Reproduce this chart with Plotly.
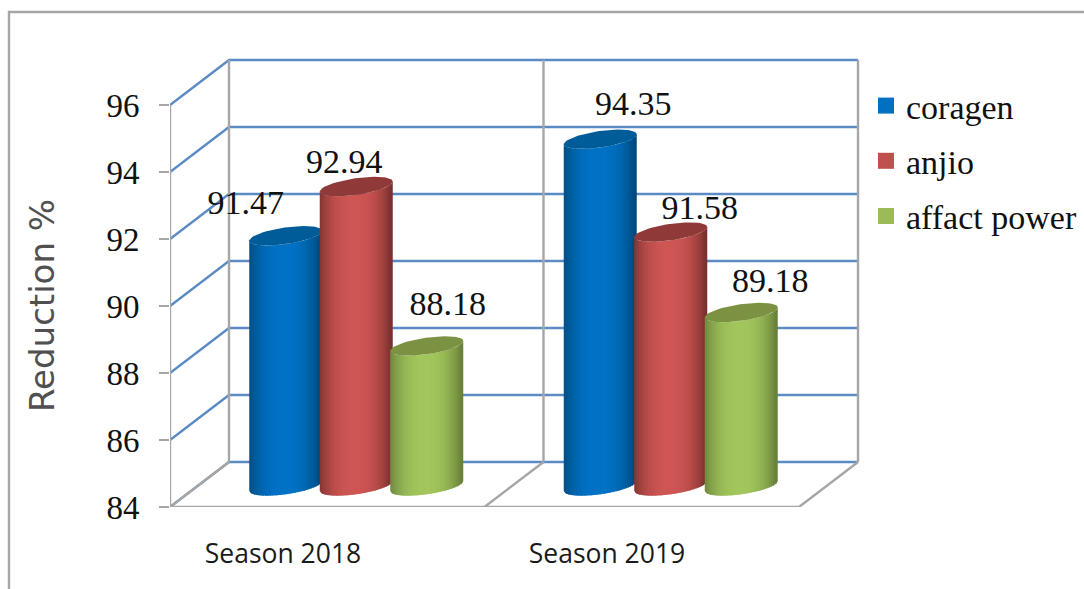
import numpy as np
import plotly.graph_objects as go

# ---- data ----
seasons = ["Season 2018", "Season 2019"]
series_names = ["coragen", "anjio", "affact power"]
coragen = [91.47, 94.35]
anjio = [92.94, 91.58]
affact_power = [88.18, 89.18]
y_ticks = [84, 86, 88, 90, 92, 94, 96]

# ---- styling / scale helpers ----
W, H = 1084, 589
L, T, B = 170, 12, 82
PX_PER_CAT = 314.5
PX_PER_VAL = 33.5
def ux(px): return px / PX_PER_CAT
def uy(px): return px / PX_PER_VAL

DX, DY = ux(59), uy(45)           # wall depth
MX, MY = ux(29), uy(21)           # depth of cylinder axis
A, BB, SH = ux(36.5), uy(8.3), uy(5)  # ellipse
GROUP = ux(70.5)
BASE = y_ticks[0]
TOP = y_ticks[-1]
GRID = "#5B8BC4"
WALL = "#A6A6A6"

shades = [
    {"edge": (0, 72, 122), "mid": (0, 114, 198), "top": (0, 92, 152), "key": "#0070C0"},
    {"edge": (122, 48, 46), "mid": (206, 86, 84), "top": (143, 58, 56), "key": "#C0504D"},
    {"edge": (104, 128, 58), "mid": (162, 198, 92), "top": (122, 146, 66), "key": "#9BBB59"},
]
label_dx = [[-40, -12, 21], [33, 29, 29]]
label_dy = [[30, 22, 39], [33, 22, 29]]
tick_x = [ux(283 - L), ux(607 - L)]

fig = go.Figure()

def line(xs, ys, color, width=2.4):
    fig.add_trace(go.Scatter(x=xs, y=ys, mode="lines", line=dict(color=color, width=width),
                             showlegend=False, hoverinfo="skip", cliponaxis=False))

# grid on side wall and back wall
for v in y_ticks:
    line([0, DX, 2 + DX], [v, v + DY, v + DY], GRID)
# walls and floor
line([0, 0], [BASE, TOP], WALL)
line([DX, DX], [BASE + DY, TOP + DY], WALL)
line([1 + DX, 1 + DX], [BASE + DY, TOP + DY], WALL)
line([2 + DX, 2 + DX], [BASE + DY, TOP + DY], WALL)
line([0, 2, 2 + DX], [BASE, BASE, BASE + DY], WALL)
line([0, DX], [BASE, BASE + DY], WALL)
line([1, 1 + DX], [BASE, BASE + DY], WALL)

def mix(c0, c1, t):
    return "rgb(%d,%d,%d)" % tuple(round(a + (b - a) * t) for a, b in zip(c0, c1))

def front(u, base):
    return base - BB * np.sqrt(np.maximum(0, 1 - u * u)) + SH * u

def cylinder(cx, value, st):
    n = 32
    edges = np.linspace(-1, 1, n + 1)
    y0, y1 = BASE + MY, value + MY
    for i in range(n):
        s0, s1 = edges[i], min(1, edges[i + 1] + 0.03)
        mid = (edges[i] + edges[i + 1]) / 2
        t = max(0, 1 - abs(mid + 0.05) ** 2.4)
        us = np.linspace(s0, s1, 3)
        xs = list(cx + A * us) + list(cx + A * us[::-1])
        ys = list(front(us, y0)) + list(front(us[::-1], y1))
        fig.add_trace(go.Scatter(x=xs, y=ys, fill="toself", mode="lines", line=dict(width=0),
                                 fillcolor=mix(st["edge"], st["mid"], t),
                                 showlegend=False, hoverinfo="skip", cliponaxis=False))
    th = np.linspace(0, 2 * np.pi, 60)
    fig.add_trace(go.Scatter(x=cx + A * np.cos(th),
                             y=y1 + BB * np.sin(th) + SH * np.cos(th),
                             fill="toself", mode="lines", line=dict(width=0),
                             fillcolor=mix(st["top"], st["top"], 0),
                             showlegend=False, hoverinfo="skip", cliponaxis=False))

all_series = [coragen, anjio, affact_power]
for g in range(len(seasons)):
    center = g + 0.5 + MX
    for k, vals in enumerate(all_series):
        cylinder(center + (k - 1) * GROUP, vals[g], shades[k])

# data labels
for g in range(len(seasons)):
    center = g + 0.5 + MX
    for k, vals in enumerate(all_series):
        fig.add_trace(go.Scatter(
            x=[center + (k - 1) * GROUP + ux(label_dx[g][k])],
            y=[vals[g] + MY + uy(label_dy[g][k])],
            mode="text", text=["%.2f" % vals[g]], textposition="middle center",
            textfont=dict(family="Liberation Serif", size=34, color="#111111"),
            showlegend=False, hoverinfo="skip", cliponaxis=False))

# legend keys
for k, name in enumerate(series_names):
    fig.add_trace(go.Scatter(x=[None], y=[None], mode="markers", name=name, legendgroup=name,
                             marker=dict(symbol="square", size=16, color=shades[k]["key"])))

plot_w, plot_h = W - L, H - T - B
fig.update_layout(
    width=W, height=H, autosize=False,
    margin=dict(l=L, r=0, t=T, b=B),
    paper_bgcolor="white", plot_bgcolor="rgba(0,0,0,0)",
    showlegend=True,
    legend=dict(x=(866 - L) / plot_w, xanchor="left", y=(507 - 77) / plot_h, yanchor="top",
                font=dict(family="Liberation Serif", size=34, color="#111111"),
                tracegroupgap=8, bgcolor="rgba(0,0,0,0)"),
    xaxis=dict(range=[0, ux(plot_w)], tickmode="array", tickvals=tick_x, ticktext=seasons,
               showgrid=False, zeroline=False, showline=False, ticks="",
               ticklabelstandoff=28, tickangle=0,
               tickfont=dict(family="Open Sans", size=26.5, color="#1a1a1a")),
    yaxis=dict(range=[BASE, BASE + uy(plot_h)], tickmode="array", tickvals=y_ticks,
               ticktext=[str(v) for v in y_ticks],
               showgrid=False, zeroline=False, showline=False,
               ticks="outside", ticklen=10, tickwidth=2.4, tickcolor=WALL,
               ticklabelstandoff=13,
               tickfont=dict(family="Liberation Serif", size=33, color="#111111")),
    annotations=[dict(text="Reduction %", xref="paper", yref="paper",
                      x=(42 - L) / plot_w, y=(507 - 306) / plot_h, showarrow=False,
                      textangle=-90, xanchor="center", yanchor="middle",
                      font=dict(family="DejaVu Sans", size=34, color="#505050"))],
    shapes=[dict(type="rect", xref="paper", yref="paper",
                 x0=(9 - L) / plot_w, x1=1.02, y0=-0.25, y1=1,
                 line=dict(color=WALL, width=2.4), fillcolor="rgba(0,0,0,0)", layer="below")],
)
fig.write_html("out.html", post_script="document.body.style.margin='0';",
               config=dict(displayModeBar=False))
